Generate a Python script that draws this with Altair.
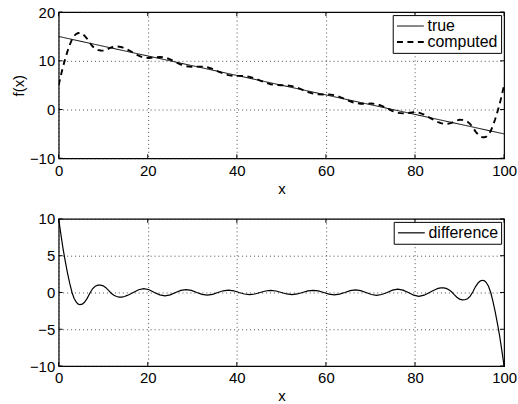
import altair as alt
import pandas as pd

# ---- data ----
x_true = [0, 100]
y_true = [15, -5]

x_vals = [
    0.0, 0.5, 1.0, 1.5, 2.0, 2.5, 3.0, 3.5, 4.0, 4.4, 4.8, 5.3, 5.8, 6.4, 7.0, 7.6, 8.2, 8.8, 9.4, 10.0,
    10.6, 11.2, 11.8, 12.4, 13.0, 13.6, 14.2, 14.8, 15.4, 16.1, 16.75,
    17.95, 19.12, 20.3, 21.5, 22.7, 23.87, 25.05, 26.25, 27.45, 28.62, 29.8, 31.0,
    32.2, 33.37, 34.55, 35.75, 36.95, 38.12, 39.3, 40.5, 41.7, 42.87, 44.05, 45.25,
    46.45, 47.62, 48.8, 50.0,
    51.2, 52.38, 53.55, 54.75, 55.95, 57.13, 58.3, 59.5, 60.7, 61.88, 63.05, 64.25,
    65.45, 66.63, 67.8, 69.0, 70.2, 71.38, 72.55, 73.75, 74.95, 76.13, 77.3, 78.5,
    79.7, 80.88, 82.05, 83.25,
    83.9, 84.6, 85.2, 85.8, 86.4, 87.0, 87.6, 88.2, 88.8, 89.4, 90.0, 90.6, 91.2, 91.8,
    92.4, 93.0, 93.6, 94.2, 94.7, 95.2, 95.6, 96.0, 96.5, 97.0, 97.5, 98.0, 98.5, 99.0, 99.5, 100.0,
]

computed_vals = [
    5.0, 7.0, 8.9, 10.5, 12.0, 13.3, 14.4, 15.15, 15.55, 15.70, 15.70, 15.52, 15.17, 14.52, 13.70, 12.98, 12.51, 12.25, 12.12, 12.10,
    12.23, 12.48, 12.74, 12.90, 12.95, 12.90, 12.79, 12.59, 12.32, 11.98, 11.65,
    11.04, 10.65, 10.57, 10.70, 10.78, 10.68, 10.31, 9.75, 9.23, 8.88, 8.76, 8.80,
    8.81, 8.68, 8.34, 7.85, 7.38, 7.06, 6.91, 6.90, 6.87, 6.72, 6.40, 5.95,
    5.51, 5.20, 5.04, 5.00,
    4.96, 4.80, 4.49, 4.05, 3.60, 3.28, 3.13, 3.10, 3.09, 2.94, 2.62, 2.15,
    1.66, 1.32, 1.19, 1.20, 1.24, 1.12, 0.77, 0.25, -0.31, -0.68, -0.78, -0.70,
    -0.57, -0.65, -1.04, -1.65,
    -1.98, -2.32, -2.59, -2.79, -2.90, -2.95, -2.90, -2.74, -2.48, -2.23, -2.10, -2.12, -2.25, -2.51,
    -2.98, -3.70, -4.52, -5.17, -5.52, -5.70, -5.70, -5.55, -5.15, -4.40, -3.30, -2.00, -0.50, 1.10, 3.00, 5.00,
]

difference_vals = [
    10.0, 7.9, 5.9, 4.2, 2.6, 1.2, 0.0, -0.85, -1.35, -1.58, -1.66, -1.58, -1.33, -0.8, -0.1, 0.5, 0.85, 0.99, 1.0, 0.9,
    0.65, 0.28, -0.1, -0.38, -0.55, -0.62, -0.63, -0.55, -0.4, -0.2, 0.0,
    0.37, 0.53, 0.37, 0.0, -0.32, -0.45, -0.32, 0.0, 0.28, 0.40, 0.28, 0.0,
    -0.25, -0.35, -0.25, 0.0, 0.23, 0.32, 0.23, 0.0, -0.21, -0.29, -0.21, 0.0,
    0.2, 0.28, 0.2, 0.0,
    -0.2, -0.28, -0.2, 0.0, 0.21, 0.29, 0.21, 0.0, -0.23, -0.32, -0.23, 0.0,
    0.25, 0.35, 0.25, 0.0, -0.28, -0.40, -0.28, 0.0, 0.32, 0.45, 0.32, 0.0,
    -0.37, -0.53, -0.37, 0.0,
    0.2, 0.4, 0.55, 0.63, 0.62, 0.55, 0.38, 0.1, -0.28, -0.65, -0.9, -1.0, -0.99, -0.85,
    -0.5, 0.1, 0.8, 1.33, 1.58, 1.66, 1.58, 1.35, 0.85, 0.0, -1.2, -2.6, -4.2, -5.9, -7.9, -10.0,
]

x_ticks = [0, 20, 40, 60, 80, 100]
top_y_ticks = [-10, 0, 10, 20]
bot_y_ticks = [-10, -5, 0, 5, 10]

FONT = "Liberation Sans"
W = 448
H1 = 147
H2 = 148
TK = 4

top_df = pd.concat([
    pd.DataFrame({"x": x_true, "y": y_true, "series": "true", "order": [0, 1]}),
    pd.DataFrame({"x": x_vals, "y": computed_vals, "series": "computed",
                  "order": list(range(len(x_vals)))}),
])
bot_df = pd.DataFrame({"x": x_vals, "y": difference_vals, "series": "difference",
                       "order": list(range(len(x_vals)))})


def axis_x():
    return alt.Axis(values=x_ticks, title="x", labelFontSize=15, titleFontSize=15,
                    labelPadding=5, titlePadding=3, ticks=False, domain=False,
                    grid=True, gridDash=[1, 3], gridColor="#222", gridOpacity=0.8,
                    labelColor="black", titleColor="black", labelFont=FONT, titleFont=FONT,
                    titleFontWeight="normal", labelFlush=False, labelOverlap=False)


def axis_y(ticks, title=None):
    return alt.Axis(values=ticks, labelFontSize=15, titleFontSize=15, labelPadding=4,
                    ticks=False, domain=False, grid=True, gridDash=[1, 3], gridColor="#222",
                    gridOpacity=0.8, labelColor="black", titleColor="black", labelFont=FONT,
                    titleFont=FONT, titleFontWeight="normal", titlePadding=3,
                    labelFlush=False, labelOverlap=False, title=title)


def inward_ticks(yticks, h, ydom, ytitle):
    xt = pd.DataFrame({"t": x_ticks})
    yt = pd.DataFrame({"t": yticks})
    xs = alt.Scale(domain=[0, 100], nice=False, zero=False)
    ys = alt.Scale(domain=ydom, nice=False, zero=False)
    b = alt.Chart(xt).mark_rule(color="black", strokeWidth=1).encode(
        x=alt.X("t:Q", scale=xs, axis=axis_x()), y=alt.value(h), y2=alt.value(h - TK))
    t = alt.Chart(xt).mark_rule(color="black", strokeWidth=1).encode(
        x=alt.X("t:Q", scale=xs, axis=axis_x()), y=alt.value(0), y2=alt.value(TK))
    l = alt.Chart(yt).mark_rule(color="black", strokeWidth=1).encode(
        y=alt.Y("t:Q", scale=ys, axis=axis_y(yticks, ytitle)), x=alt.value(0), x2=alt.value(TK))
    r = alt.Chart(yt).mark_rule(color="black", strokeWidth=1).encode(
        y=alt.Y("t:Q", scale=ys, axis=axis_y(yticks, ytitle)), x=alt.value(W - TK),
        x2=alt.value(W))
    return [b, t, l, r]


legend_kw = dict(title=None, orient="top-right", offset=3, strokeColor="black",
                 fillColor="white", padding=3, symbolType="M-1,0H3", symbolSize=182,
                 labelFontSize=16, labelFont=FONT, labelColor="black", labelOffset=16,
                 rowPadding=0, cornerRadius=0, symbolStrokeColor="black")

top_lines = alt.Chart(top_df).mark_line(clip=True).encode(
    x=alt.X("x:Q", scale=alt.Scale(domain=[0, 100], nice=False, zero=False), axis=axis_x()),
    y=alt.Y("y:Q", scale=alt.Scale(domain=[-10, 20], nice=False, zero=False),
            axis=axis_y(top_y_ticks, "f(x)")),
    color=alt.Color("series:N", scale=alt.Scale(domain=["true", "computed"],
                                                 range=["black", "black"]),
                    legend=alt.Legend(**legend_kw)),
    strokeDash=alt.StrokeDash("series:N", scale=alt.Scale(domain=["true", "computed"],
                                                           range=[[1, 0], [6, 4.5]]),
                              legend=alt.Legend(**legend_kw)),
    strokeWidth=alt.StrokeWidth("series:N", scale=alt.Scale(domain=["true", "computed"],
                                                             range=[1, 1.9]),
                                legend=alt.Legend(**legend_kw)),
    order="order:Q",
)

top = alt.layer(top_lines, *inward_ticks(top_y_ticks, H1, [-10, 20], "f(x)")).properties(
    width=W, height=H1)

bot_lines = alt.Chart(bot_df).mark_line(clip=True, strokeWidth=1.2).encode(
    x=alt.X("x:Q", scale=alt.Scale(domain=[0, 100], nice=False, zero=False), axis=axis_x()),
    y=alt.Y("y:Q", scale=alt.Scale(domain=[-10, 10], nice=False, zero=False),
            axis=axis_y(bot_y_ticks)),
    color=alt.Color("series:N", scale=alt.Scale(domain=["difference"], range=["black"]),
                    legend=alt.Legend(symbolStrokeWidth=1.2, **legend_kw)),
    order="order:Q",
)

bot = alt.layer(bot_lines, *inward_ticks(bot_y_ticks, H2, [-10, 10], None)).properties(
    width=W, height=H2)

chart = alt.vconcat(top, bot, spacing=14).resolve_scale(
    color="independent", strokeDash="independent", strokeWidth="independent"
).resolve_legend(
    color="independent", strokeDash="independent", strokeWidth="independent"
).properties(
    padding={"left": 10, "top": 3, "right": 0, "bottom": 0},
    background="white",
).configure_view(stroke="black", strokeWidth=1.2)

chart.save("out.html", embed_options={"renderer": "svg", "actions": False})
